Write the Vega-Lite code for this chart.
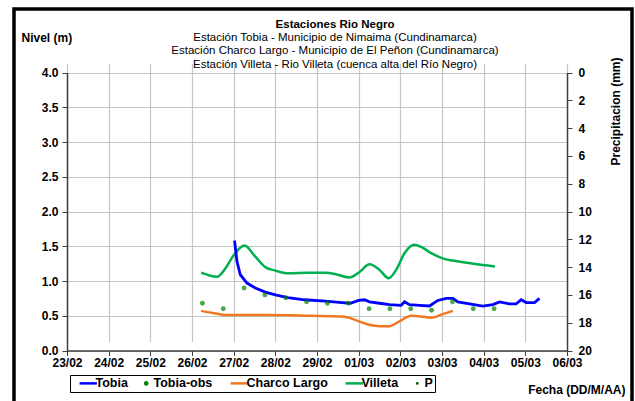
{
  "$schema": "https://vega.github.io/schema/vega-lite/v6.json",
  "width": 618,
  "height": 396,
  "autosize": {"type": "none"},
  "padding": {"left": 14, "top": 9, "right": 3, "bottom": -4},
  "background": "white",
  "config": {
    "font": "Liberation Sans",
    "view": {"stroke": "black", "strokeWidth": 3.5},
    "legend": {"strokeWidth": 1},
    "axis": {
      "labelFont": "Liberation Sans",
      "labelFontSize": 12,
      "labelFontWeight": "bold",
      "labelColor": "black",
      "titleFont": "Liberation Sans",
      "titleFontSize": 12,
      "titleFontWeight": "bold",
      "titleColor": "black",
      "tickSize": 5,
      "tickColor": "#404040",
      "domainColor": "#404040",
      "domainWidth": 1.5,
      "gridColor": "#c4c4c4",
      "gridWidth": 1.2
    }
  },
  "title": {
    "text": "Estaciones Rio Negro",
    "subtitle": [
      "Estación Tobia - Municipio de Nimaima (Cundinamarca)",
      "Estación Charco Largo - Municipio de El Peñon (Cundinamarca)",
      "Estación Villeta -  Rio Villeta (cuenca alta del Río Negro)"
    ],
    "anchor": "middle",
    "frame": "group",
    "dx": 12,
    "offset": -61,
    "font": "Liberation Sans",
    "fontSize": 11.5,
    "fontWeight": "bold",
    "color": "black",
    "subtitleFont": "Liberation Sans",
    "subtitleFontSize": 11.5,
    "subtitleFontWeight": "normal",
    "subtitleColor": "black",
    "subtitlePadding": 1,
    "subtitleLineHeight": 13.5
  },
  "data": {
    "values": [
      {"series": "Villeta", "date": "2008-02-26T05:17", "value": 1.12},
      {"series": "Villeta", "date": "2008-02-26T14:24", "value": 1.06},
      {"series": "Villeta", "date": "2008-02-26T19:12", "value": 1.18},
      {"series": "Villeta", "date": "2008-02-27T00:00", "value": 1.37},
      {"series": "Villeta", "date": "2008-02-27T06:14", "value": 1.51},
      {"series": "Villeta", "date": "2008-02-27T12:29", "value": 1.35},
      {"series": "Villeta", "date": "2008-02-27T18:14", "value": 1.20},
      {"series": "Villeta", "date": "2008-02-28T00:00", "value": 1.15},
      {"series": "Villeta", "date": "2008-02-28T07:12", "value": 1.11},
      {"series": "Villeta", "date": "2008-02-28T19:12", "value": 1.12},
      {"series": "Villeta", "date": "2008-02-29T04:48", "value": 1.12},
      {"series": "Villeta", "date": "2008-02-29T12:00", "value": 1.09},
      {"series": "Villeta", "date": "2008-02-29T18:43", "value": 1.05},
      {"series": "Villeta", "date": "2008-03-01T00:30", "value": 1.13},
      {"series": "Villeta", "date": "2008-03-01T06:14", "value": 1.24},
      {"series": "Villeta", "date": "2008-03-01T12:00", "value": 1.16},
      {"series": "Villeta", "date": "2008-03-01T17:17", "value": 1.04},
      {"series": "Villeta", "date": "2008-03-01T21:36", "value": 1.16},
      {"series": "Villeta", "date": "2008-03-02T02:24", "value": 1.40},
      {"series": "Villeta", "date": "2008-03-02T08:10", "value": 1.52},
      {"series": "Villeta", "date": "2008-03-02T12:00", "value": 1.49},
      {"series": "Villeta", "date": "2008-03-02T17:46", "value": 1.40},
      {"series": "Villeta", "date": "2008-03-03T00:00", "value": 1.33},
      {"series": "Villeta", "date": "2008-03-03T09:36", "value": 1.28},
      {"series": "Villeta", "date": "2008-03-03T23:31", "value": 1.23},
      {"series": "Villeta", "date": "2008-03-04T06:29", "value": 1.21},
      {"series": "Tobia", "date": "2008-02-27T00:30", "value": 1.58},
      {"series": "Tobia", "date": "2008-02-27T01:55", "value": 1.28},
      {"series": "Tobia", "date": "2008-02-27T03:50", "value": 1.09},
      {"series": "Tobia", "date": "2008-02-27T07:40", "value": 0.97},
      {"series": "Tobia", "date": "2008-02-27T12:29", "value": 0.90},
      {"series": "Tobia", "date": "2008-02-27T18:14", "value": 0.84},
      {"series": "Tobia", "date": "2008-02-28T00:00", "value": 0.80},
      {"series": "Tobia", "date": "2008-02-28T07:12", "value": 0.76},
      {"series": "Tobia", "date": "2008-02-28T16:48", "value": 0.73},
      {"series": "Tobia", "date": "2008-02-29T04:48", "value": 0.71},
      {"series": "Tobia", "date": "2008-02-29T14:24", "value": 0.69},
      {"series": "Tobia", "date": "2008-02-29T19:12", "value": 0.68},
      {"series": "Tobia", "date": "2008-03-01T00:00", "value": 0.72},
      {"series": "Tobia", "date": "2008-03-01T03:22", "value": 0.73},
      {"series": "Tobia", "date": "2008-03-01T06:14", "value": 0.70},
      {"series": "Tobia", "date": "2008-03-01T12:00", "value": 0.68},
      {"series": "Tobia", "date": "2008-03-01T17:46", "value": 0.66},
      {"series": "Tobia", "date": "2008-03-02T00:30", "value": 0.65},
      {"series": "Tobia", "date": "2008-03-02T02:24", "value": 0.70},
      {"series": "Tobia", "date": "2008-03-02T05:17", "value": 0.66},
      {"series": "Tobia", "date": "2008-03-02T11:02", "value": 0.65},
      {"series": "Tobia", "date": "2008-03-02T16:48", "value": 0.64},
      {"series": "Tobia", "date": "2008-03-02T21:36", "value": 0.72},
      {"series": "Tobia", "date": "2008-03-03T02:24", "value": 0.75},
      {"series": "Tobia", "date": "2008-03-03T06:14", "value": 0.75},
      {"series": "Tobia", "date": "2008-03-03T09:07", "value": 0.70},
      {"series": "Tobia", "date": "2008-03-03T15:50", "value": 0.67},
      {"series": "Tobia", "date": "2008-03-03T23:31", "value": 0.64},
      {"series": "Tobia", "date": "2008-03-04T05:17", "value": 0.66},
      {"series": "Tobia", "date": "2008-03-04T09:07", "value": 0.70},
      {"series": "Tobia", "date": "2008-03-04T14:53", "value": 0.67},
      {"series": "Tobia", "date": "2008-03-04T18:43", "value": 0.67},
      {"series": "Tobia", "date": "2008-03-04T21:36", "value": 0.73},
      {"series": "Tobia", "date": "2008-03-05T00:30", "value": 0.69},
      {"series": "Tobia", "date": "2008-03-05T05:17", "value": 0.69},
      {"series": "Tobia", "date": "2008-03-05T08:10", "value": 0.75},
      {"series": "Tobia-obs", "date": "2008-02-26T06:00", "value": 0.68},
      {"series": "Tobia-obs", "date": "2008-02-26T18:00", "value": 0.60},
      {"series": "Tobia-obs", "date": "2008-02-27T06:00", "value": 0.90},
      {"series": "Tobia-obs", "date": "2008-02-27T18:00", "value": 0.80},
      {"series": "Tobia-obs", "date": "2008-02-28T06:00", "value": 0.76},
      {"series": "Tobia-obs", "date": "2008-02-28T18:00", "value": 0.70},
      {"series": "Tobia-obs", "date": "2008-02-29T06:00", "value": 0.68},
      {"series": "Tobia-obs", "date": "2008-02-29T18:00", "value": 0.68},
      {"series": "Tobia-obs", "date": "2008-03-01T06:00", "value": 0.60},
      {"series": "Tobia-obs", "date": "2008-03-01T18:00", "value": 0.60},
      {"series": "Tobia-obs", "date": "2008-03-02T06:00", "value": 0.60},
      {"series": "Tobia-obs", "date": "2008-03-02T18:00", "value": 0.58},
      {"series": "Tobia-obs", "date": "2008-03-03T06:00", "value": 0.70},
      {"series": "Tobia-obs", "date": "2008-03-03T18:00", "value": 0.60},
      {"series": "Tobia-obs", "date": "2008-03-04T06:00", "value": 0.60},
      {"series": "Charco Largo", "date": "2008-02-26T05:17", "value": 0.57},
      {"series": "Charco Largo", "date": "2008-02-26T12:00", "value": 0.54},
      {"series": "Charco Largo", "date": "2008-02-26T20:10", "value": 0.51},
      {"series": "Charco Largo", "date": "2008-02-27T20:10", "value": 0.51},
      {"series": "Charco Largo", "date": "2008-02-28T20:10", "value": 0.50},
      {"series": "Charco Largo", "date": "2008-02-29T14:24", "value": 0.49},
      {"series": "Charco Largo", "date": "2008-02-29T18:43", "value": 0.47},
      {"series": "Charco Largo", "date": "2008-03-01T00:00", "value": 0.42},
      {"series": "Charco Largo", "date": "2008-03-01T06:00", "value": 0.37},
      {"series": "Charco Largo", "date": "2008-03-01T12:00", "value": 0.35},
      {"series": "Charco Largo", "date": "2008-03-01T17:46", "value": 0.35},
      {"series": "Charco Largo", "date": "2008-03-01T23:31", "value": 0.42},
      {"series": "Charco Largo", "date": "2008-03-02T06:14", "value": 0.50},
      {"series": "Charco Largo", "date": "2008-03-02T12:00", "value": 0.49},
      {"series": "Charco Largo", "date": "2008-03-02T17:46", "value": 0.47},
      {"series": "Charco Largo", "date": "2008-03-03T00:00", "value": 0.52},
      {"series": "Charco Largo", "date": "2008-03-03T06:14", "value": 0.57}
    ]
  },
  "encoding": {
    "x": {
      "field": "date",
      "type": "temporal",
      "scale": {
        "domain": [{"year": 2008, "month": 2, "date": 23}, {"year": 2008, "month": 3, "date": 6}],
        "range": [53, 553],
        "nice": false
      },
      "axis": {
        "orient": "bottom",
        "offset": -54.5,
        "format": "%d/%m",
        "tickCount": {"interval": "day", "step": 1},
        "labelFlush": false,
        "labelOverlap": false,
        "labelPadding": 2,
        "grid": true,
        "title": "Fecha (DD/M/AA)",
        "titleX": 611,
        "titleY": 38.5,
        "titleAlign": "right",
        "titleBaseline": "middle"
      }
    },
    "color": {
      "field": "series",
      "type": "nominal",
      "scale": {
        "domain": ["Tobia", "Tobia-obs", "Charco Largo", "Villeta", "P"],
        "range": ["#0000ff", "#008000", "#f07820", "#00b050", "#006000"]
      },
      "legend": {
        "title": " ",
        "titleOrient": "left",
        "titlePadding": 10,
        "titleFontSize": 12,
        "orient": "none",
        "legendX": 56,
        "legendY": 366,
        "direction": "horizontal",
        "columns": 5,
        "strokeColor": "black",
        "padding": 2,
        "symbolSize": 300,
        "labelFont": "Liberation Sans",
        "labelFontSize": 12.5,
        "labelFontWeight": "bold",
        "labelColor": "black",
        "labelOffset": 1,
        "columnPadding": 12,
        "encode": {
          "symbols": {
            "update": {
              "shape": {"signal": "indexof(['Tobia-obs','P'], datum.value) >= 0 ? 'circle' : 'stroke'"},
              "size": {"signal": "datum.value === 'P' ? 8 : (datum.value === 'Tobia-obs' ? 22 : 300)"},
              "fill": {"signal": "scale('color', datum.value)"},
              "stroke": {"signal": "scale('color', datum.value)"},
              "strokeWidth": {"signal": "indexof(['Tobia-obs','P'], datum.value) >= 0 ? 0 : 2.5"}
            }
          }
        }
      }
    }
  },
  "layer": [
    {
      "encoding": {
        "y": {
          "field": "value",
          "type": "quantitative",
          "scale": {"domain": [0, 4], "range": [341.5, 63.5], "nice": false, "zero": true},
          "axis": {
            "orient": "left",
            "offset": -53,
            "values": [0, 0.5, 1, 1.5, 2, 2.5, 3, 3.5, 4],
            "format": ".1f",
            "labelPadding": 4,
            "grid": true,
            "title": "Nivel (m)",
            "titleAngle": 0,
            "titleX": -46,
            "titleY": 28,
            "titleAlign": "left",
            "titleBaseline": "middle"
          }
        }
      },
      "layer": [
        {
          "transform": [{"filter": "datum.series === 'Villeta' || datum.series === 'Charco Largo'"}],
          "mark": {"type": "line", "interpolate": "monotone", "strokeWidth": 2.5},
          "encoding": {"detail": {"field": "series"}}
        },
        {
          "transform": [{"filter": "datum.series === 'Tobia'"}],
          "mark": {"type": "line", "interpolate": "linear", "strokeWidth": 2.8}
        },
        {
          "transform": [{"filter": "datum.series === 'Tobia-obs'"}],
          "mark": {"type": "point", "filled": true, "size": 24}
        }
      ]
    },
    {
      "transform": [{"filter": "datum.series === 'P'"}],
      "mark": {"type": "point", "filled": true, "size": 8},
      "encoding": {
        "y": {
          "field": "value",
          "type": "quantitative",
          "scale": {"domain": [0, 20], "range": [63.5, 341.5], "nice": false},
          "axis": {
            "orient": "right",
            "offset": -65,
            "values": [0, 2, 4, 6, 8, 10, 12, 14, 16, 18, 20],
            "format": "d",
            "labelPadding": 6,
            "grid": false,
            "title": "Precipitacion (mm)",
            "titleAngle": 270,
            "titleX": 48,
            "titleY": 102,
            "titleAlign": "center",
            "titleBaseline": "middle"
          }
        }
      }
    }
  ],
  "resolve": {"scale": {"y": "independent"}}
}
